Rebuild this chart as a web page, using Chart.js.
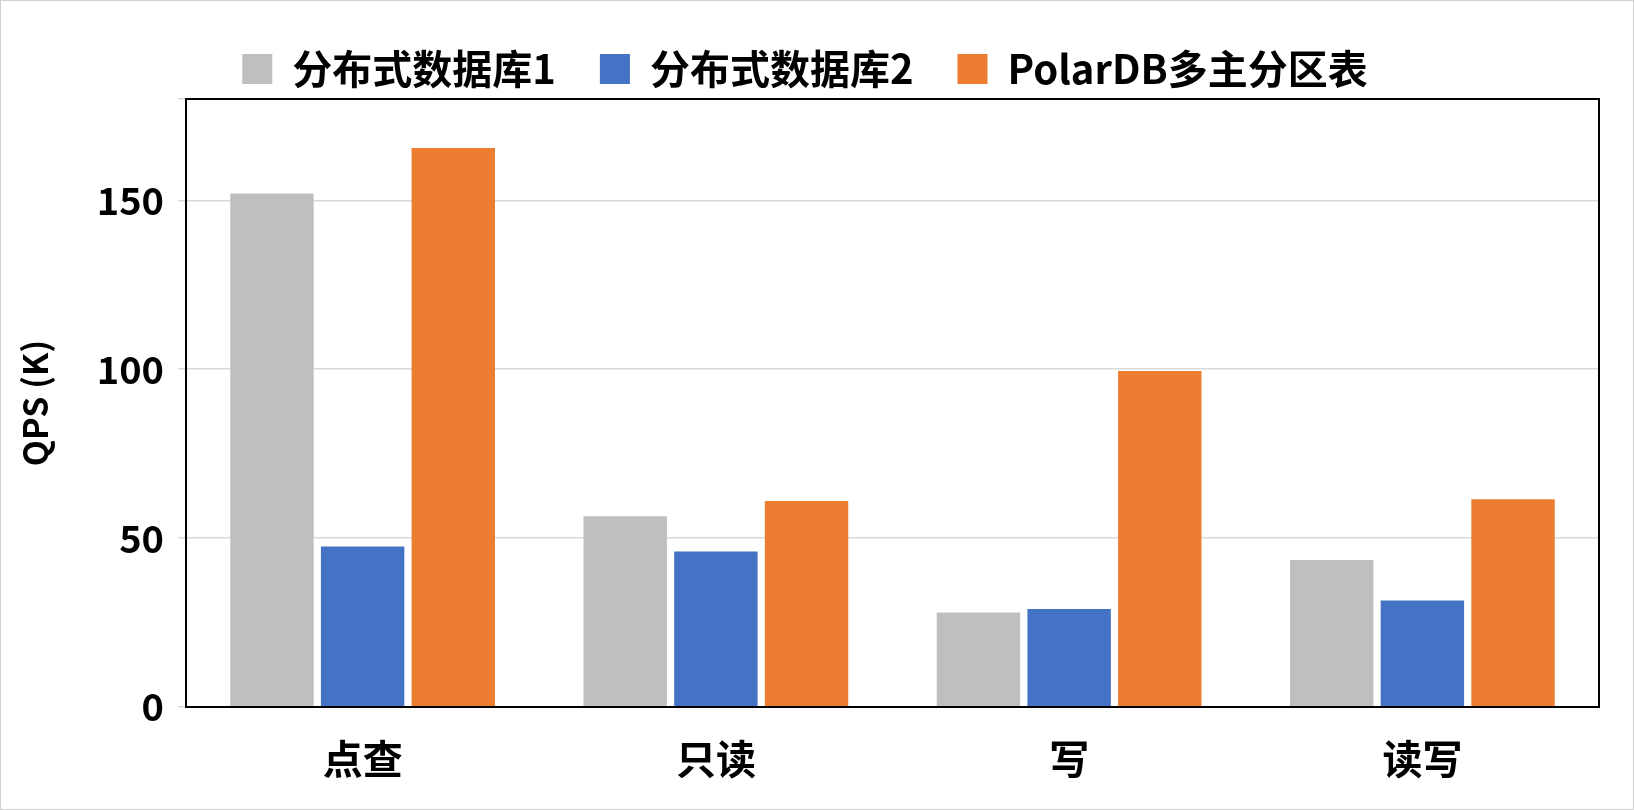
<!DOCTYPE html>
<html><head><meta charset="utf-8">
<script src="https://cdn.jsdelivr.net/npm/chart.js@4"></script>
<style>html,body{margin:0;padding:0;background:#fff}#w{width:1632px;height:808px;border:1px solid #d0d0d0}</style>
</head><body><div id="w"><canvas id="c" width="1632" height="808"></canvas></div>
<script>
const categories=['点查','只读','写','读写'];
const seriesNames=['分布式数据库1','分布式数据库2','PolarDB多主分区表'];
const db1=[152,56.5,28,43.5];
const db2=[47.5,46,29,31.5];
const polar=[165.5,61,99.5,61.5];
const colors=['#bfbfbf','#4472c4','#ed7d31'];
const F='"Noto Sans CJK SC","Open Sans",sans-serif';
const border={id:'b',afterDraw(c){const a=c.chartArea,x=c.ctx;x.save();x.strokeStyle='#000';x.lineWidth=2;x.strokeRect(a.left,a.top,a.right-a.left,a.bottom-a.top);x.restore();}};
new Chart(document.getElementById('c'),{type:'bar',
data:{labels:categories,datasets:[db1,db2,polar].map((d,i)=>({label:seriesNames[i],data:d,backgroundColor:colors[i],categoryPercentage:0.77,barPercentage:0.92}))},
options:{responsive:false,animation:false,layout:{padding:{left:10,right:34,top:4,bottom:6}},
plugins:{legend:{labels:{font:{family:F,size:40,weight:'bold'},color:'#000',boxWidth:30,boxHeight:30,padding:44},padding:20,
  afterFit(){}} ,tooltip:{enabled:false}},
scales:{x:{grid:{display:false},border:{color:'#000',width:2},ticks:{font:{family:F,size:40,weight:'bold'},color:'#000',padding:20}},
y:{min:0,max:180,afterFit(s){s.width=175;},ticks:{stepSize:50,callback:v=>v>170?'':v,font:{family:F,size:38,weight:'bold'},color:'#000',padding:14},grid:{color:'#d9d9d9',lineWidth:1.5},border:{display:false},
title:{display:true,text:'QPS (K)',font:{family:F,size:34,weight:'bold'},color:'#000'}}}},
plugins:[border]});
</script></body></html>
